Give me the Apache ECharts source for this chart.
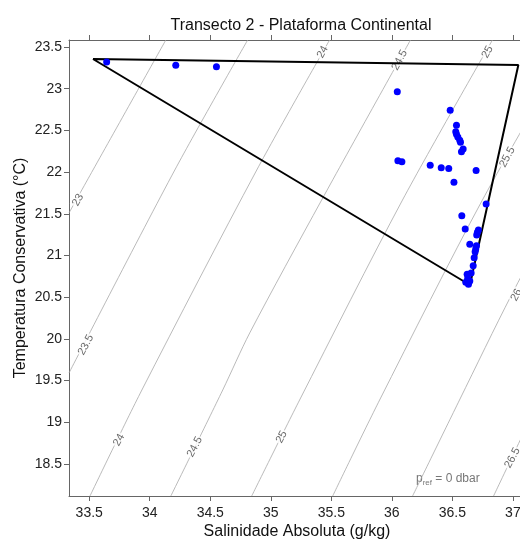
<!DOCTYPE html>
<html>
<head>
<meta charset="utf-8">
<script src="https://cdn.jsdelivr.net/npm/echarts@6/dist/echarts.min.js"></script>
<style>
  html, body { margin: 0; padding: 0; background: #fff; }
  #chart { width: 520px; height: 541px; }
</style>
</head>
<body>
<div id="chart"></div>
<script>
// pontos das estações (SA, CT)
const salinity = [33.644, 34.215, 34.551, 36.045, 36.482, 36.534, 36.528, 36.534, 36.545, 36.561,
  36.567, 36.589, 36.575, 36.050, 36.083, 36.317, 36.408, 36.470, 36.696, 36.513,
  36.779, 36.578, 36.606, 36.715, 36.707, 36.701, 36.644, 36.699, 36.693, 36.688,
  36.680, 36.672, 36.622, 36.655, 36.627, 36.644, 36.611, 36.633]
const temperature = [23.320, 23.281, 23.264, 22.964, 22.741, 22.561, 22.484, 22.453, 22.421, 22.381,
  22.357, 22.277, 22.245, 22.137, 22.125, 22.082, 22.053, 22.043, 22.019, 21.878,
  21.618, 21.477, 21.318, 21.306, 21.278, 21.246, 21.134, 21.117, 21.078, 21.045,
  20.974, 20.878, 20.775, 20.790, 20.727, 20.694, 20.679, 20.655]

// triangulo de mistura
const triangleS = [33.531, 37.045, 36.645, 33.531]
const triangleT = [23.356, 23.284, 20.646, 23.356]

// isopicnais (sigma0)
const contourLevels = ["23", "23.5", "24", "24.5", "25", "25.5", "26", "26.5"]
const contourS = [
  [34.133, 33.531, 33.333],
  [34.809, 34.207, 33.333],
  [35.486, 34.884, 33.935, 33.506],
  [36.154, 35.420, 34.826, 34.603, 34.174],
  [36.831, 36.088, 35.238, 34.842],
  [37.507, 36.748, 35.899, 35.511],
  [37.408, 36.988, 36.559, 36.171],
  [37.218, 36.840]
]
const contourT = [
  [23.584, 22.025, 21.510],
  [23.584, 22.025, 19.591],
  [23.584, 22.025, 19.387, 18.115],
  [23.584, 21.665, 20.071, 19.387, 18.115],
  [23.584, 21.665, 19.267, 18.115],
  [23.584, 21.665, 19.267, 18.115],
  [21.665, 20.526, 19.267, 18.115],
  [19.267, 18.115]
]

// rotulos das isopicnais
const labelText = ["23", "23.5", "24", "24", "24.5", "24.5", "25", "25", "25.5", "26", "26.5"]
const labelS = [33.407, 33.473, 35.428, 33.746, 36.065, 34.372, 36.790, 35.090, 36.954, 37.029, 36.996]
const labelT = [21.665, 19.927, 23.440, 18.788, 23.344, 18.704, 23.440, 18.824, 22.181, 20.526, 18.572]

const xTicks = [33.5, 34, 34.5, 35, 35.5, 36, 36.5, 37]
const yTicks = [18.5, 19, 19.5, 20, 20.5, 21, 21.5, 22, 22.5, 23, 23.5]

const font = "Liberation Sans"
const axisColor = "#666"

let chart = echarts.init(document.getElementById("chart"))

let series = []
contourS.forEach((xs, i) => {
  series.push({
    name: "sigma " + contourLevels[i],
    type: "line",
    data: xs.map((s, j) => [s, contourT[i][j]]),
    symbol: "none",
    smooth: 0.3,
    clip: true,
    silent: true,
    lineStyle: {color: "#a8a8a8", width: 0.8},
    z: 1
  })
})
series.push({
  type: "scatter",
  data: labelS.map((s, i) => [s, labelT[i], labelText[i]]),
  symbolSize: 0,
  silent: true,
  z: 2,
  label: {
    show: true,
    position: "inside",
    formatter: p => p.value[2],
    rotate: 62,
    fontFamily: font,
    fontSize: 11,
    color: "#444",
    backgroundColor: "#fff",
    padding: [0, 1]
  }
})
series.push({
  type: "line",
  data: triangleS.map((s, i) => [s, triangleT[i]]),
  symbol: "none",
  lineStyle: {color: "#000", width: 2},
  z: 3
})
series.push({
  type: "scatter",
  data: salinity.map((s, i) => [s, temperature[i]]),
  symbolSize: 7,
  itemStyle: {color: "#0000ff", opacity: 1},
  z: 4
})

chart.setOption({
  animation: false,
  title: {
    text: "Transecto 2 - Plataforma Continental",
    left: 296,
    top: 13,
    textAlign: "center",
    textStyle: {fontFamily: font, fontSize: 16, fontWeight: "normal", color: "#111"}
  },
  grid: {left: 69, top: 40, width: 456, bottom: 45, outerBoundsMode: "none", containLabel: false},
  xAxis: [
    {
      type: "value",
      min: 33.333,
      max: 37.1,
      name: "Salinidade Absoluta (g/kg)",
      nameLocation: "middle",
      nameGap: 28,
      nameMoveOverlap: false,
      nameTextStyle: {fontFamily: font, fontSize: 16, color: "#111"},
      axisLine: {show: true, lineStyle: {color: axisColor}},
      axisTick: {show: true, length: 5, customValues: xTicks, lineStyle: {color: axisColor}},
      axisLabel: {customValues: xTicks, margin: 10, fontFamily: font, fontSize: 14, color: "#222"},
      splitLine: {show: false}
    },
    {
      type: "value",
      position: "top",
      min: 33.333,
      max: 37.1,
      axisLine: {show: true, lineStyle: {color: axisColor}},
      axisTick: {show: true, length: 5, customValues: xTicks, lineStyle: {color: axisColor}},
      axisLabel: {show: false},
      splitLine: {show: false}
    }
  ],
  yAxis: [
    {
      type: "value",
      min: 18.116,
      max: 23.584,
      name: "Temperatura Conservativa (°C)",
      nameLocation: "middle",
      nameGap: 40,
      nameMoveOverlap: false,
      nameTextStyle: {fontFamily: font, fontSize: 16, color: "#111"},
      axisLine: {show: true, lineStyle: {color: axisColor}},
      axisTick: {show: true, length: 5, customValues: yTicks, lineStyle: {color: axisColor}},
      axisLabel: {customValues: yTicks, margin: 7, fontFamily: font, fontSize: 14, color: "#222"},
      splitLine: {show: false}
    },
    {
      type: "value",
      position: "right",
      min: 18.116,
      max: 23.584,
      axisLine: {show: true, lineStyle: {color: axisColor}},
      axisTick: {show: false},
      axisLabel: {show: false},
      splitLine: {show: false}
    }
  ],
  graphic: [{
    type: "text",
    left: 416,
    top: 471,
    style: {
      text: "{p|p}{s|ref}{p| = 0 dbar}",
      rich: {
        p: {fontFamily: font, fontSize: 12, fill: "#777", lineHeight: 16},
        s: {fontFamily: font, fontSize: 8, fill: "#777", lineHeight: 16, verticalAlign: "bottom", padding: [8, 0, 0, 0]}
      }
    }
  }],
  series: series
})
</script>
</body>
</html>
